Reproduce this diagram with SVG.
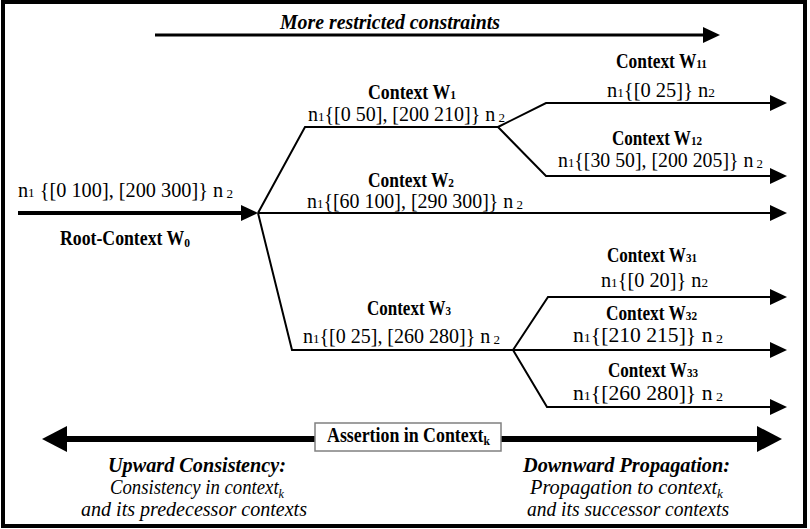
<svg xmlns="http://www.w3.org/2000/svg" width="810" height="529" viewBox="0 0 810 529">
<defs>
<style>
text{font-family:'Liberation Serif','Times New Roman',serif;font-size:20px;fill:#000}
.b{font-weight:bold}
.bi{font-weight:bold;font-style:italic}
.i{font-style:italic}
.s{font-size:13px}
.sb{font-size:13px;font-weight:bold}
.ln{fill:none;stroke:#000;stroke-width:2}
.thick{fill:none;stroke:#000;stroke-width:4}
.dbl{fill:none;stroke:#000;stroke-width:6}
</style>
<marker id="ah" viewBox="0 0 17 16" refX="10" refY="8" markerWidth="17" markerHeight="16" markerUnits="userSpaceOnUse" orient="auto">
<path d="M0,0 L17,8 L0,16 Z" fill="#000"/>
</marker>
<marker id="big" viewBox="0 0 25 26" refX="17" refY="13" markerWidth="25" markerHeight="26" markerUnits="userSpaceOnUse" orient="auto-start-reverse">
<path d="M0,0 L25,13 L0,26 Z" fill="#000"/>
</marker>
</defs>
<rect x="0" y="0" width="810" height="529" fill="#fff"/>
<rect x="3" y="2" width="802" height="524" fill="none" stroke="#000" stroke-width="4"/>

<g id="connectors">
<path class="ln" style="stroke-width:3" d="M155,35 H713" marker-end="url(#ah)"/>
<path class="thick" d="M18,213 H251" marker-end="url(#ah)"/>
<path class="ln" d="M258,213 L305,127 H498"/>
<path class="ln" d="M498,127 L546,103 H780" marker-end="url(#ah)"/>
<path class="ln" d="M498,127 L546,176 H780" marker-end="url(#ah)"/>
<path class="ln" d="M258,213 H780" marker-end="url(#ah)"/>
<path class="ln" d="M258,213 L292,350 H513"/>
<path class="ln" d="M513,350 L548,297 H780" marker-end="url(#ah)"/>
<path class="ln" d="M513,350 H780" marker-end="url(#ah)"/>
<path class="ln" d="M513,350 L547,407 H780" marker-end="url(#ah)"/>
<path class="dbl" d="M50,439 H774" marker-start="url(#big)" marker-end="url(#big)"/>
</g>

<g font-family="Liberation Serif, serif">
<g id="header">
<text class="bi" x="280" y="29" textLength="220" lengthAdjust="spacingAndGlyphs">More restricted constraints</text>
</g>

<g id="root">
<text x="18" y="197" textLength="215" lengthAdjust="spacingAndGlyphs">n<tspan class="s">1</tspan> {[0 100], [200 300]} n<tspan class="s" dy="1"> 2</tspan></text>
<text class="b" x="60" y="245" textLength="130" lengthAdjust="spacingAndGlyphs">Root-Context W<tspan class="sb" dy="2">0</tspan></text>
</g>

<g id="w1">
<text class="b" x="368" y="99" textLength="88" lengthAdjust="spacingAndGlyphs">Context W<tspan class="sb">1</tspan></text>
<text x="308" y="121" textLength="197" lengthAdjust="spacingAndGlyphs">n<tspan class="s">1</tspan>{[0 50], [200 210]} n<tspan class="s" dy="1"> 2</tspan></text>
</g>

<g id="w11">
<text class="b" x="616" y="68" textLength="91" lengthAdjust="spacingAndGlyphs">Context W<tspan class="sb">11</tspan></text>
<text x="607" y="97" textLength="108" lengthAdjust="spacingAndGlyphs">n<tspan class="s">1</tspan>{[0 25]} n<tspan class="s">2</tspan></text>
</g>

<g id="w12">
<text class="b" x="612" y="145" textLength="90" lengthAdjust="spacingAndGlyphs">Context W<tspan class="sb">12</tspan></text>
<text x="558" y="167" textLength="205" lengthAdjust="spacingAndGlyphs">n<tspan class="s">1</tspan>{[30 50], [200 205]} n<tspan class="s" dy="1"> 2</tspan></text>
</g>

<g id="w2">
<text class="b" x="368" y="187" textLength="86" lengthAdjust="spacingAndGlyphs">Context W<tspan class="sb">2</tspan></text>
<text x="307" y="208" textLength="216" lengthAdjust="spacingAndGlyphs">n<tspan class="s">1</tspan>{[60 100], [290 300]} n<tspan class="s" dy="1"> 2</tspan></text>
</g>

<g id="w3">
<text class="b" x="367" y="315" textLength="84" lengthAdjust="spacingAndGlyphs">Context W<tspan class="sb">3</tspan></text>
<text x="303" y="343" textLength="197" lengthAdjust="spacingAndGlyphs">n<tspan class="s">1</tspan>{[0 25], [260 280]} n<tspan class="s" dy="1"> 2</tspan></text>
</g>

<g id="w31">
<text class="b" x="607" y="262" textLength="90" lengthAdjust="spacingAndGlyphs">Context W<tspan class="sb">31</tspan></text>
<text x="601" y="287" textLength="107" lengthAdjust="spacingAndGlyphs">n<tspan class="s">1</tspan>{[0 20]} n<tspan class="s">2</tspan></text>
</g>

<g id="w32">
<text class="b" x="606" y="320" textLength="91" lengthAdjust="spacingAndGlyphs">Context W<tspan class="sb">32</tspan></text>
<text x="573" y="342" textLength="150" lengthAdjust="spacingAndGlyphs">n<tspan class="s">1</tspan>{[210 215]} n<tspan class="s" dy="1"> 2</tspan></text>
</g>

<g id="w33">
<text class="b" x="608" y="377" textLength="90" lengthAdjust="spacingAndGlyphs">Context W<tspan class="sb">33</tspan></text>
<text x="573" y="400" textLength="150" lengthAdjust="spacingAndGlyphs">n<tspan class="s">1</tspan>{[260 280]} n<tspan class="s" dy="1"> 2</tspan></text>
</g>

<g id="assertion">
<rect x="315" y="423" width="186" height="28" fill="#fff" stroke="#808080" stroke-width="1.5"/>
<text class="b" x="327" y="442" textLength="163" lengthAdjust="spacingAndGlyphs">Assertion in Context<tspan class="sb" dy="3">k</tspan></text>
</g>

<g id="upward">
<text class="bi" x="108" y="472" textLength="178" lengthAdjust="spacingAndGlyphs">Upward Consistency:</text>
<text class="i" x="110" y="494" textLength="174" lengthAdjust="spacingAndGlyphs">Consistency in context<tspan class="s" dy="4">k</tspan></text>
<text class="i" x="81" y="516" textLength="226" lengthAdjust="spacingAndGlyphs">and its predecessor contexts</text>
</g>

<g id="downward">
<text class="bi" x="523" y="472" textLength="207" lengthAdjust="spacingAndGlyphs">Downward Propagation:</text>
<text class="i" x="530" y="494" textLength="193" lengthAdjust="spacingAndGlyphs">Propagation to context<tspan class="s" dy="4">k</tspan></text>
<text class="i" x="527" y="516" textLength="202" lengthAdjust="spacingAndGlyphs">and its successor contexts</text>
</g>
</g>
</svg>
